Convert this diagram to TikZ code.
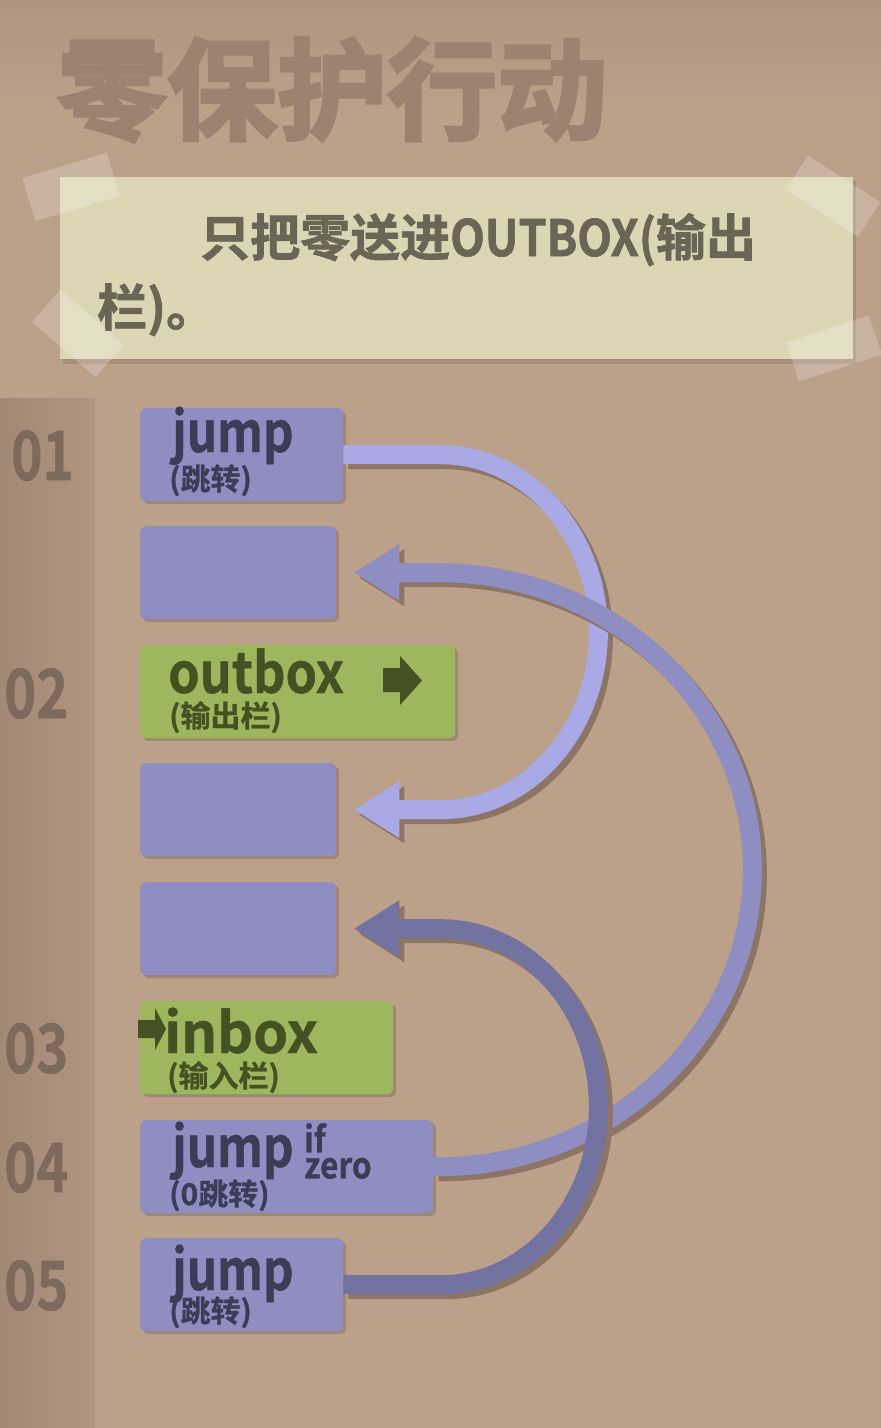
\documentclass[tikz,border=0pt]{standalone}
\usepackage{fontspec}
\setmainfont{Noto Sans CJK SC}[BoldFont={Noto Sans CJK SC Bold}]
\newfontfamily\titlefont{Noto Sans CJK SC Bold}[FakeBold=3]
\newfontfamily\notefont{Noto Sans CJK SC Bold}[FakeBold=1.5]
\newfontfamily\lblfont{Noto Sans CJK SC Bold}[FakeBold=0.8]
\usetikzlibrary{calc}
\definecolor{bg}{HTML}{BBA08A}
\definecolor{bgtop}{HTML}{AF9481}
\definecolor{stripL}{HTML}{A28975}
\definecolor{stripR}{HTML}{AF9582}
\definecolor{titlec}{HTML}{9C8271}
\definecolor{notec}{HTML}{DDD6B4}
\definecolor{noteshadow}{HTML}{A28976}
\definecolor{notetext}{HTML}{6B6555}
\definecolor{numc}{HTML}{7E6A5D}
\definecolor{blockp}{HTML}{8E8EC3}
\definecolor{blockg}{HTML}{9CB75D}
\definecolor{ptext}{HTML}{3B3C56}
\definecolor{gtext}{HTML}{435123}
\definecolor{blkshadow}{HTML}{A08774}
\definecolor{arrA}{HTML}{A9A9E6}
\definecolor{arrB}{HTML}{8E8EC3}
\definecolor{arrC}{HTML}{7273A0}
\definecolor{arrshadow}{HTML}{8C7564}
\begin{document}
\begin{tikzpicture}[x=1pt,y=1pt,
  blk/.style={rectangle, rounded corners=6pt, inner sep=0pt, anchor=north west, minimum height=93pt},
  pblk/.style={blk, fill=blockp},
  gblk/.style={blk, fill=blockg},
  mainlbl/.style={anchor=base west, inner sep=0pt, font=\fontsize{56}{56}\selectfont\lblfont},
  sublbl/.style={anchor=base west, inner sep=0pt, font=\fontsize{30}{30}\selectfont\lblfont},
  smalllbl/.style={anchor=north west, inner sep=0pt, align=left, font=\fontsize{36}{26}\selectfont\lblfont},
  numlbl/.style={anchor=base west, inner sep=0pt, text=numc, font=\fontsize{68}{68}\selectfont\lblfont},
  tape/.style={fill=white, opacity=0.22},
  shaft/.style={line width=19pt},
  shadowshift/.style={transform canvas={shift={(5pt,-5pt)}}}
]
\useasboundingbox (0,0) rectangle (881,-1428);
% background
\fill[bg] (0,0) rectangle (881,-1428);
\shade[top color=bgtop, bottom color=bg] (0,0) rectangle (881,-110);
\shade[left color=stripL, right color=stripR] (0,-398) rectangle (95,-1428);

% title
\node[anchor=base west, inner sep=0pt, text=titlec, font=\fontsize{110}{110}\selectfont\titlefont] (title) at (57,-131) {零保护行动};

% note
\fill[noteshadow, opacity=0.7] (63,-181) rectangle (856,-364);
\node[rectangle, fill=notec, anchor=north west, inner sep=0pt, minimum width=793pt, minimum height=182pt] (note) at (60,-177) {};
\node[anchor=base west, inner sep=0pt, text=notetext, font=\fontsize{50}{50}\selectfont\notefont] (noteA) at (200,-256) {只把零送进\scalebox{0.9}[1]{OUTBOX(}输出};
\node[anchor=base west, inner sep=0pt, text=notetext, font=\fontsize{50}{50}\selectfont\notefont] (noteB) at (97,-326) {栏)。};

% tapes
\fill[tape, shift={(71,-187)}, rotate=16.6] (-44,-22.5) rectangle (44,22.5);
\fill[tape, shift={(78,-333.5)}, rotate=-41] (-42,-21.5) rectangle (42,21.5);
\fill[tape, shift={(833,-196)}, rotate=-33] (-43,-20.5) rectangle (43,20.5);
\fill[tape, shift={(834,-348.5)}, rotate=18] (-43.5,-20.5) rectangle (43.5,20.5);

% line numbers
\node[numlbl] (n1) at (11,-480) {\scalebox{0.78}[1]{01}};
\node[numlbl] (n2) at (4,-718) {\scalebox{0.8}[1]{02}};
\node[numlbl] (n3) at (4,-1073) {\scalebox{0.8}[1]{03}};
\node[numlbl] (n4) at (4,-1192) {\scalebox{0.8}[1]{04}};
\node[numlbl] (n5) at (4,-1310) {\scalebox{0.8}[1]{05}};

% block shadows
\foreach \x/\y/\w in {140/408/203, 140/526/196, 140/645/315, 140/763/196, 140/882/196, 140/1001/253, 140/1120/293, 140/1238/203}{
  \fill[blkshadow, rounded corners=6pt] (\x+3,-\y-3) rectangle (\x+\w+3,-\y-93-3);
}

% blocks
\node[pblk, minimum width=203pt] (j1) at (140,-408) {};
\node[pblk, minimum width=196pt] (e2) at (140,-526) {};
\node[gblk, minimum width=315pt] (ob) at (140,-645) {};
\node[pblk, minimum width=196pt] (e4) at (140,-763) {};
\node[pblk, minimum width=196pt] (e5) at (140,-882) {};
\node[gblk, minimum width=253pt] (ib) at (140,-1001) {};
\node[pblk, minimum width=293pt] (jz) at (140,-1120) {};
\node[pblk, minimum width=203pt] (j5) at (140,-1238) {};

% block labels
\node[mainlbl, text=ptext] (j1a) at (172,-452) {\scalebox{0.85}[1]{jump}};
\node[sublbl, text=ptext] (j1b) at (169,-490) {(跳转)};
\node[mainlbl, text=gtext] (oba) at (168,-693) {\scalebox{0.9}[1]{outbox}};
\node[sublbl, text=gtext] (obb) at (169,-727) {(输出栏)};
\fill[gtext] (383,-668) -- (400,-668) -- (400,-656) -- (422,-680.5) -- (400,-705) -- (400,-692) -- (383,-692) -- cycle;
\node[mainlbl, text=gtext] (iba) at (164,-1053) {inbox};
\node[sublbl, text=gtext] (ibb) at (167,-1087) {(输入栏)};
\fill[gtext] (138,-1020) -- (155,-1020) -- (155,-1008) -- (166,-1029) -- (155,-1050) -- (155,-1038) -- (138,-1038) -- cycle;
\node[mainlbl, text=ptext] (jza) at (172,-1167) {\scalebox{0.85}[1]{jump}};
\node[smalllbl, text=ptext] (jzb) at (304,-1123) {\scalebox{0.88}[1]{if}\\\scalebox{0.88}[1]{zero}};
\node[sublbl, text=ptext] (jzd) at (169,-1205) {(0跳转)};
\node[mainlbl, text=ptext] (j5a) at (172,-1290) {\scalebox{0.85}[1]{jump}};
\node[sublbl, text=ptext] (j5b) at (169,-1322) {(跳转)};

% arrow A: j1 -> e4
\begin{scope}[shadowshift]
  \draw[shaft, arrshadow] (j1.east) -- ++(97,0) arc[start angle=90, end angle=-90, x radius=158, y radius=177.5] -- ($(e4.east)+(61,0)$);
  \fill[arrshadow] ($(e4.east)+(18,0)$) -- ++(45,28.5) -- ++(0,-57) -- cycle;
\end{scope}
\draw[shaft, arrA] (j1.east) -- ++(97,0) arc[start angle=90, end angle=-90, x radius=158, y radius=177.5] -- ($(e4.east)+(61,0)$);
\fill[arrA] ($(e4.east)+(18,0)$) -- ++(45,28.5) -- ++(0,-57) -- cycle;

% arrow B: jz -> e2
\begin{scope}[shadowshift]
  \draw[shaft, arrshadow] (jz.east) -- ++(5,0) arc[start angle=-90, end angle=90, x radius=314, y radius=297] -- ($(e2.east)+(61,0)$);
  \fill[arrshadow] ($(e2.east)+(18,0)$) -- ++(45,28.5) -- ++(0,-57) -- cycle;
\end{scope}
\draw[shaft, arrB] (jz.east) -- ++(5,0) arc[start angle=-90, end angle=90, x radius=314, y radius=297] -- ($(e2.east)+(61,0)$);
\fill[arrB] ($(e2.east)+(18,0)$) -- ++(45,28.5) -- ++(0,-57) -- cycle;

% arrow C: j5 -> e5
\begin{scope}[shadowshift]
  \draw[shaft, arrshadow] (j5.east) -- ++(97,0) arc[start angle=-90, end angle=90, x radius=158, y radius=178] -- ($(e5.east)+(61,0)$);
  \fill[arrshadow] ($(e5.east)+(18,0)$) -- ++(45,28.5) -- ++(0,-57) -- cycle;
\end{scope}
\draw[shaft, arrC] (j5.east) -- ++(97,0) arc[start angle=-90, end angle=90, x radius=158, y radius=178] -- ($(e5.east)+(61,0)$);
\fill[arrC] ($(e5.east)+(18,0)$) -- ++(45,28.5) -- ++(0,-57) -- cycle;
\end{tikzpicture}
\end{document}
